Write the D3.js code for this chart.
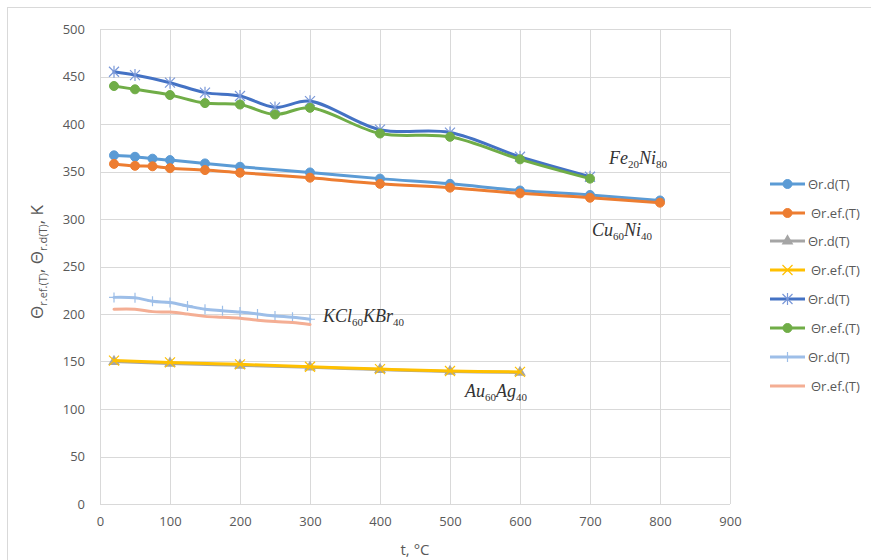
<!DOCTYPE html>
<html>
<head>
<meta charset="utf-8">
<script src="https://cdn.jsdelivr.net/npm/d3@7"></script>
<style>
  body { margin: 0; background: #fff; }
  svg { display: block; }
</style>
</head>
<body>
<div id="chart"></div>
<script>
// Data
const tempCu = [20, 50, 75, 100, 150, 200, 300, 400, 500, 600, 700, 800];
const cuRd = [367, 365.5, 363.5, 362, 358.5, 355, 349, 342.5, 337, 330, 325.3, 319.5];
const cuRef = [358, 356, 355.5, 353.5, 351.5, 348.7, 343.5, 337, 333, 327, 322.4, 317.2];

const tempAu = [20, 100, 200, 300, 400, 500, 600];
const auRd = [150, 148, 146, 144, 141.5, 139.5, 138.5];
const auRef = [151, 149, 147, 144.5, 142, 140, 139];

const tempFe = [20, 50, 100, 150, 200, 250, 300, 400, 500, 600, 700];
const feRd = [455, 451.5, 443.5, 433, 429.5, 417.5, 424, 394, 391, 365.5, 344.5];
const feRef = [440, 436.5, 430.5, 422, 420.5, 410, 417, 390, 386.5, 362.8, 342.5];

const tempKcl = [20, 50, 75, 100, 125, 150, 175, 200, 225, 250, 275, 300];
const kclRd = [217.5, 217, 213.5, 212, 208.5, 205, 203.5, 202, 200, 198, 196.5, 194.5];
const kclRef = [205, 205, 202.5, 202, 200, 197.5, 196.5, 195.5, 193.5, 192, 191, 189];

const xTicks = [0, 100, 200, 300, 400, 500, 600, 700, 800, 900];
const yTicks = [0, 50, 100, 150, 200, 250, 300, 350, 400, 450, 500];
const legendNames = ["Θr.d(T)", "Θr.ef.(T)", "Θr.d(T)", "Θr.ef.(T)", "Θr.d(T)", "Θr.ef.(T)", "Θr.d(T)", "Θr.ef.(T)"];

const series = [
  { x: tempCu, y: cuRd, color: "#5B9BD5", marker: "circle", mcolor: "#5B9BD5" },
  { x: tempCu, y: cuRef, color: "#ED7D31", marker: "circle", mcolor: "#ED7D31" },
  { x: tempAu, y: auRd, color: "#A5A5A5", marker: "triangle", mcolor: "#A5A5A5" },
  { x: tempAu, y: auRef, color: "#FFC000", marker: "cross", mcolor: "#FFC000" },
  { x: tempFe, y: feRd, color: "#4472C4", marker: "star", mcolor: "#7A98D8" },
  { x: tempFe, y: feRef, color: "#70AD47", marker: "circle", mcolor: "#70AD47" },
  { x: tempKcl, y: kclRd, color: "#9DBEE8", marker: "plus", mcolor: "#9DBEE8" },
  { x: tempKcl, y: kclRef, color: "#F4AE94", marker: "none", mcolor: "#F4AE94" }
];

const W = 871, H = 560;
const margin = { left: 100, top: 29, right: 141, bottom: 56 };

const svg = d3.select("#chart").append("svg")
    .attr("width", W)
    .attr("height", H);

// chart border
svg.append("rect")
    .attr("x", 7.5).attr("y", 7.5)
    .attr("width", W + 10).attr("height", H + 10)
    .attr("fill", "none")
    .attr("stroke", "#D9D9D9");

const xScale = d3.scaleLinear().domain([0, 900]).range([margin.left, W - margin.right]);
const yScale = d3.scaleLinear().domain([0, 500]).range([H - margin.bottom, margin.top]);

// gridlines
const grid = svg.append("g");
grid.selectAll(".hgrid").data(yTicks).enter().append("line")
    .attr("x1", xScale(0)).attr("x2", xScale(900))
    .attr("y1", d => Math.round(yScale(d)) + 0.5).attr("y2", d => Math.round(yScale(d)) + 0.5)
    .attr("stroke", "#D9D9D9");
grid.selectAll(".vgrid").data(xTicks).enter().append("line")
    .attr("y1", yScale(0)).attr("y2", yScale(500))
    .attr("x1", d => Math.round(xScale(d)) + 0.5).attr("x2", d => Math.round(xScale(d)) + 0.5)
    .attr("stroke", "#D9D9D9");

// axes
const tickFont = "'Liberation Sans Narrow', 'Open Sans', sans-serif";
const xAxis = svg.append("g")
    .attr("transform", `translate(0,${yScale(0)})`)
    .call(d3.axisBottom(xScale).tickValues(xTicks).tickSize(0).tickPadding(13));
const yAxis = svg.append("g")
    .attr("transform", `translate(${xScale(0)},0)`)
    .call(d3.axisLeft(yScale).tickValues(yTicks).tickSize(0).tickPadding(15));
[xAxis, yAxis].forEach(a => {
  a.select(".domain").remove();
  a.selectAll("text")
      .attr("fill", "#595959")
      .style("font-family", tickFont)
      .style("font-size", "13px");
});

// axis titles
svg.append("text")
    .attr("x", 415).attr("y", 555)
    .attr("text-anchor", "middle")
    .attr("fill", "#595959")
    .style("font-family", "'Open Sans', sans-serif")
    .style("font-size", "15px")
    .text("t, °C");

const yTitle = svg.append("text")
    .attr("transform", "translate(43,262) rotate(-90)")
    .attr("text-anchor", "middle")
    .attr("fill", "#595959")
    .style("font-family", "'Open Sans', sans-serif")
    .style("font-size", "17px");
yTitle.append("tspan").text("Θ");
yTitle.append("tspan").attr("dy", 4).style("font-size", "11px").text("r.ef.(T)");
yTitle.append("tspan").attr("dy", -4).text(", Θ");
yTitle.append("tspan").attr("dy", 4).style("font-size", "11px").text("r.d(T)");
yTitle.append("tspan").attr("dy", -4).text(", K");

// markers
function drawMarker(g, type, color, size) {
  const s = size;
  if (type === "circle") {
    g.append("circle").attr("r", s).attr("fill", color).attr("stroke", color);
  } else if (type === "triangle") {
    g.append("path").attr("d", d3.symbol(d3.symbolTriangle, 60)()).attr("fill", color);
  } else if (type === "cross") {
    g.append("path").attr("d", `M${-s},${-s}L${s},${s}M${-s},${s}L${s},${-s}`)
        .attr("stroke", color).attr("stroke-width", 1.2);
  } else if (type === "star") {
    g.append("path").attr("d", `M${-s},${-s}L${s},${s}M${-s},${s}L${s},${-s}M0,${-s - 1}L0,${s + 1}`)
        .attr("stroke", color).attr("stroke-width", 1.2);
  } else if (type === "plus") {
    g.append("path").attr("d", `M${-s},0L${s},0M0,${-s}L0,${s}`)
        .attr("stroke", color).attr("stroke-width", 1.2);
  }
}

const line = d3.line()
    .x(d => xScale(d[0]))
    .y(d => yScale(d[1]))
    .curve(d3.curveCatmullRom.alpha(0.5));

const plot = svg.append("g");
series.forEach(s => {
  const pts = s.x.map((t, i) => [t, s.y[i]]);
  const g = plot.append("g");
  g.append("path")
      .datum(pts)
      .attr("d", line)
      .attr("fill", "none")
      .attr("stroke", s.color)
      .attr("stroke-width", 3)
      .attr("stroke-linejoin", "round")
      .attr("stroke-linecap", "round");
  pts.forEach(p => {
    const m = g.append("g").attr("transform", `translate(${xScale(p[0])},${yScale(p[1])})`);
    drawMarker(m, s.marker, s.mcolor, s.marker === "circle" ? 4.5 : 5);
  });
});

// series labels
const labelFont = "'Liberation Serif', 'DejaVu Serif', serif";
function alloyLabel(x, y, parts) {
  const t = svg.append("text")
      .attr("x", x).attr("y", y)
      .attr("fill", "#333")
      .style("font-family", labelFont)
      .style("font-style", "italic")
      .style("font-size", "18px");
  let down = false;
  parts.forEach((p, i) => {
    const isSub = i % 2 === 1;
    const ts = t.append("tspan").text(p);
    if (isSub && !down) {
      ts.attr("dy", 4).style("font-size", "11px").style("font-style", "normal");
      down = true;
    } else if (!isSub && down) {
      ts.attr("dy", -4);
      down = false;
    }
  });
}
alloyLabel(609, 164, ["Fe", "20", "Ni", "80"]);
alloyLabel(592, 236, ["Cu", "60", "Ni", "40"]);
alloyLabel(323, 322, ["KCl", "60", "KBr", "40"]);
alloyLabel(465, 397, ["Au", "60", "Ag", "40"]);

// legend
const legendY = [184, 213, 241, 270, 299, 328, 357, 386];
const legend = svg.append("g");
series.forEach((s, i) => {
  const g = legend.append("g").attr("transform", `translate(0,${legendY[i]})`);
  g.append("line").attr("x1", 770).attr("x2", 805)
      .attr("stroke", s.color).attr("stroke-width", 3);
  const m = g.append("g").attr("transform", "translate(787.5,0)");
  drawMarker(m, s.marker, s.mcolor, s.marker === "circle" ? 4.5 : 5);
  g.append("text")
      .attr("x", legendNames[i].includes("ef") ? 811 : 808)
      .attr("y", 0).attr("dy", "0.35em")
      .attr("fill", "#595959")
      .style("font-family", "'Open Sans', sans-serif")
      .style("font-size", "13px")
      .text(legendNames[i]);
});
</script>
</body>
</html>
